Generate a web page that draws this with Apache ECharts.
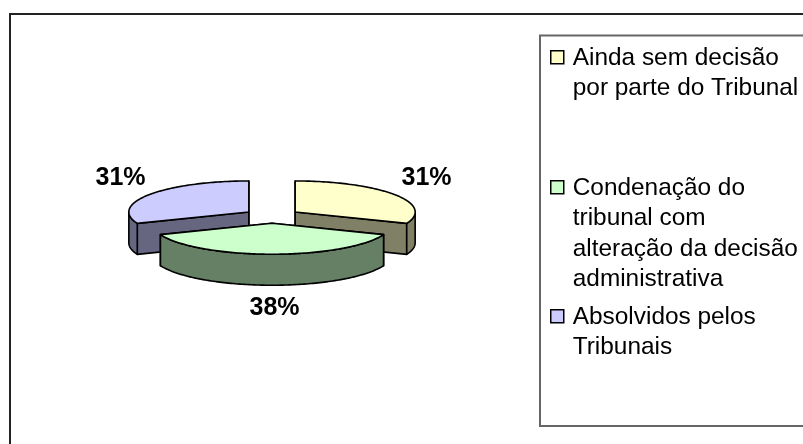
<!DOCTYPE html>
<html><head><meta charset="utf-8">
<style>html,body{margin:0;padding:0;background:#fff}#c{width:803px;height:444px}</style>
<script src="https://cdn.jsdelivr.net/npm/echarts@6/dist/echarts.min.js"></script></head>
<body><div id="c"></div>
<script>
const categories = ["Ainda sem decisão\npor parte do Tribunal","Condenação do\ntribunal com\nalteração da decisão\nadministrativa","Absolvidos pelos\nTribunais"];
const values = [31,38,31];
const labels = ["31%","38%","31%"];
const topColors = ["#FFFFCC","#CCFFCC","#CCCCFF"];
const sideColors = ["#808066","#668066","#666680"];
const labelPos = [[426.5,178],[274.5,308.5],[120.5,178]];
const legendTops = [42,172,301];

const CX=272, CY=216, RX=120, RY=31, DEPTH=31, EXPLODE=28;
const LINE=30.5, FS=24.4;
const total = values.reduce((a,b)=>a+b,0);
const F='"Liberation Sans",Arial,sans-serif';
let acc=0;
const spans = values.map(v=>{const s=acc/total*2*Math.PI; acc+=v; return [s,acc/total*2*Math.PI];});
const LW=1.6, LC='#000';
function ell(c,a,dy){return [c[0]+RX*Math.sin(a), c[1]-RY*Math.cos(a)+(dy||0)];}
function arc(c,a0,a1,dy){const n=Math.max(2,Math.round((a1-a0)/0.02));const p=[];for(let i=0;i<=n;i++)p.push(ell(c,a0+(a1-a0)*i/n,dy));return p;}
function poly(points,fill){return {type:'polygon',shape:{points},style:{fill,stroke:LC,lineWidth:LW,lineJoin:'round'}};}
function sliceRender(i){
  return function(){
    const [a0,a1]=spans[i], mid=(a0+a1)/2;
    const c=[CX+EXPLODE*Math.sin(mid), CY-EXPLODE*RY/RX*Math.cos(mid)];
    const base=[c[0],c[1]+DEPTH];
    const ch=[];
    const side=sideColors[i];
    [a0,a1].forEach(a=>{const e=ell(c,a);ch.push(poly([c,e,[e[0],e[1]+DEPTH],base],side));});
    const w0=Math.max(a0,Math.PI/2), w1=Math.min(a1,Math.PI*1.5);
    if(w1>w0){
      const topE=arc(c,w0,w1);
      const botE=arc(c,w0,w1,DEPTH).reverse();
      ch.push(poly(topE.concat(botE),side));
    }
    ch.push(poly([c].concat(arc(c,a0,a1)),topColors[i]));
    ch.push({type:'text',style:{text:labels[i],x:labelPos[i][0],y:labelPos[i][1],align:'center',verticalAlign:'middle',font:'bold 25px '+F,fill:'#000'}});
    return {type:'group',children:ch};
  };
}
const series = categories.map((name,i)=>({
  type:'custom',name,coordinateSystem:'none',silent:true,
  z:i===1?5:2,
  itemStyle:{color:topColors[i],borderColor:'#000',borderWidth:1.5},
  data:[values[i]],
  renderItem:sliceRender(i)
}));
const chart=echarts.init(document.getElementById('c'),null,{renderer:'canvas'});
chart.setOption({
  animation:false,backgroundColor:'#fff',
  graphic:[
    {type:'rect',shape:{x:10,y:14,width:810,height:450},style:{fill:'none',stroke:'#222',lineWidth:2},z:-1},
    {type:'rect',shape:{x:540,y:35.5,width:300,height:390.5},style:{fill:'none',stroke:'#666',lineWidth:2},z:-1}
  ],
  legend:categories.map((name,i)=>{
    const h=name.split('\n').length*LINE;
    return {
      data:[name],orient:'vertical',left:550,top:legendTops[i],padding:0,
      icon:`path://M0,8 L13,8 L13,21 L0,21 Z M17,0 L17,0 M17,${h} L17,${h}`,
      itemWidth:17,itemHeight:h,itemGap:0,selectedMode:false,
      itemStyle:{borderColor:'#000',borderWidth:1.5},
      textStyle:{fontFamily:F,fontSize:FS,lineHeight:LINE,color:'#000'}
    };
  }),
  series
});
</script></body></html>
